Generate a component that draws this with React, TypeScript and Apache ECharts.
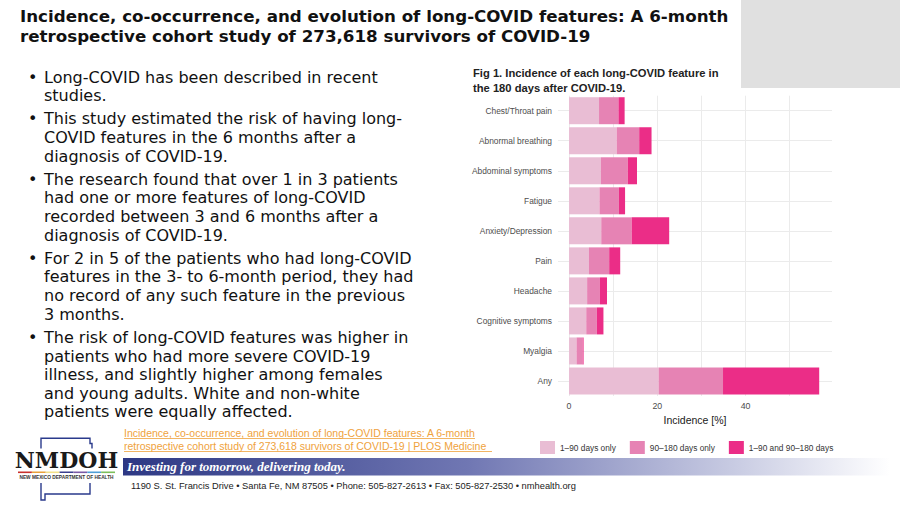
import React, { useEffect, useRef } from "react";
import * as echarts from "echarts";

const categories = [
  "Chest/Throat pain",
  "Abnormal breathing",
  "Abdominal symptoms",
  "Fatigue",
  "Anxiety/Depression",
  "Pain",
  "Headache",
  "Cognitive symptoms",
  "Myalgia",
  "Any",
];
const seriesNames = ["1–90 days only", "90–180 days only", "1–90 and 90–180 days"];
const early = [6.8, 10.8, 7.2, 6.9, 7.3, 4.5, 4.1, 3.9, 1.7, 20.3];
const late = [4.4, 5.1, 6.1, 4.4, 6.9, 4.6, 2.9, 2.4, 1.4, 14.6];
const both = [1.4, 2.8, 2.1, 1.4, 8.5, 2.5, 1.6, 1.5, 0.2, 21.8];
const xTickLabels = [0, 20, 40];
const xGridValues = [0, 10, 20, 30, 40, 50];

const titleLines = [
  "Incidence, co-occurrence, and evolution of long-COVID features: A 6-month",
  "retrospective cohort study of 273,618 survivors of COVID-19",
];
const chartTitleLines = [
  "Fig 1. Incidence of each long-COVID feature in",
  "the 180 days after COVID-19.",
];
const bullets = [
  ["Long-COVID has been described in recent", "studies."],
  [
    "This study estimated the risk of having long-",
    "COVID features in the 6 months after a",
    "diagnosis of COVID-19.",
  ],
  [
    "The research found that over 1 in 3 patients",
    "had one or more features of long-COVID",
    "recorded between 3 and 6 months after a",
    "diagnosis of COVID-19.",
  ],
  [
    "For 2 in 5 of the patients who had long-COVID",
    "features in the 3- to 6-month period, they had",
    "no record of any such feature in the previous",
    "3 months.",
  ],
  [
    "The risk of long-COVID features was higher in",
    "patients who had more severe COVID-19",
    "illness, and slightly higher among females",
    "and young adults. White and non-white",
    "patients were equally affected.",
  ],
];
const bulletTops = [77, 118.8, 179.2, 258.3, 337.4];
const linkLines = [
  "Incidence, co-occurrence, and evolution of long-COVID features: A 6-month",
  "retrospective cohort study of 273,618 survivors of COVID-19 | PLOS Medicine",
];
const tagline = "Investing for tomorrow, delivering today.";
const address =
  "1190 S. St. Francis Drive • Santa Fe, NM 87505 • Phone: 505-827-2613 • Fax: 505-827-2530 • nmhealth.org";

const colors = ["#E9BDD4", "#E683B4", "#EB2D87"];
const rainbow = ["#c9302c", "#e9a13b", "#f2e08a", "#3b3f8f", "#7a5aa6", "#4f9fd6", "#7cbf5b"];

const SANS = "'Liberation Sans', Arial, sans-serif";
const BODY = "'DejaVu Sans', sans-serif";
const LH = 18.65;
const TLH = 19.6;

export default function App() {
  const ref = useRef<HTMLDivElement>(null);
  useEffect(() => {
    if (!ref.current) return;
    const chart = echarts.init(ref.current, null, { renderer: "svg" });

    const graphic: any[] = [];
    graphic.push({
      type: "rect",
      shape: { x: 741, y: 0, width: 159, height: 88 },
      style: { fill: "#e0e0e0" },
      z: 0,
    });
    graphic.push({
      type: "text",
      x: 20,
      y: 16 - TLH / 2,
      style: {
        text: titleLines.join("\n"),
        fill: "#111",
        fontFamily: BODY,
        fontWeight: "bold",
        fontSize: 16.7,
        lineHeight: TLH,
        verticalAlign: "top",
      },
    });
    graphic.push({
      type: "text",
      x: 473,
      y: 73 - 7.25,
      style: {
        text: chartTitleLines.join("\n"),
        fill: "#222",
        fontFamily: SANS,
        fontWeight: "bold",
        fontSize: 11.2,
        lineHeight: 14.5,
        verticalAlign: "top",
      },
    });
    bullets.forEach((lines, i) => {
      graphic.push({
        type: "text",
        x: 28,
        y: bulletTops[i] - LH / 2,
        style: { text: "•", fill: "#111", fontFamily: BODY, fontSize: 16, lineHeight: LH, verticalAlign: "top" },
      });
      graphic.push({
        type: "text",
        x: 44,
        y: bulletTops[i] - LH / 2,
        style: {
          text: lines.join("\n"),
          fill: "#111",
          fontFamily: BODY,
          fontSize: 16,
          lineHeight: LH,
          verticalAlign: "top",
        },
      });
    });
    // link text
    const linkW = [351, 368];
    linkLines.forEach((t, i) => {
      const ym = 433 + i * 13;
      graphic.push({
        type: "text",
        x: 124,
        y: ym,
        style: { text: t, fill: "#EFA23C", fontFamily: SANS, fontSize: 10.5, verticalAlign: "middle" },
      });
      graphic.push({
        type: "line",
        shape: { x1: 124, y1: ym + 5.5, x2: 124 + linkW[i], y2: ym + 5.5 },
        style: { stroke: "#EFA23C", lineWidth: 0.8 },
      });
    });
    // footer band
    graphic.push({
      type: "rect",
      shape: { x: 123, y: 458, width: 767, height: 17.5 },
      style: {
        fill: new echarts.graphic.LinearGradient(0, 0, 1, 0, [
          { offset: 0, color: "#2d3884" },
          { offset: 0.45, color: "#7077b3" },
          { offset: 0.8, color: "#c9cce3" },
          { offset: 1, color: "#ffffff" },
        ]),
      },
    });
    graphic.push({
      type: "text",
      x: 127,
      y: 466.7,
      style: {
        text: tagline,
        fill: "#ffffff",
        fontFamily: "'Liberation Serif', serif",
        fontWeight: "bold",
        fontStyle: "italic",
        fontSize: 13,
        verticalAlign: "middle",
      },
    });
    graphic.push({
      type: "text",
      x: 131,
      y: 485.5,
      style: {
        text: address,
        fill: "#222",
        fontFamily: SANS,
        fontSize: 9.3,
        verticalAlign: "middle",
      },
    });
    // logo
    graphic.push({
      type: "polyline",
      shape: { points: [[41, 448.5], [41, 438.3], [90, 438.3], [90, 443.5], [92, 443.5], [92, 448.5]] },
      style: { stroke: "#2a3a8c", lineWidth: 1.4, fill: "none" },
    });
    graphic.push({
      type: "polyline",
      shape: { points: [[41, 483], [41, 500], [45, 500], [45, 494], [90, 494], [90, 483]] },
      style: { stroke: "#2a3a8c", lineWidth: 1.4, fill: "none" },
    });
    graphic.push({
      type: "text",
      x: 66.5,
      y: 460,
      style: {
        text: "NMDOH",
        fill: "#1a1a1a",
        fontFamily: "'DejaVu Serif', serif",
        fontWeight: "bold",
        fontSize: 22,
        align: "center",
        verticalAlign: "middle",
      },
    });
    const segW = 97 / rainbow.length;
    rainbow.forEach((c, i) => {
      graphic.push({
        type: "rect",
        shape: { x: 18 + i * segW, y: 471.5, width: segW, height: 1.6 },
        style: { fill: c },
      });
    });
    graphic.push({
      type: "text",
      x: 66.5,
      y: 477.7,
      style: {
        text: "NEW MEXICO DEPARTMENT OF HEALTH",
        fill: "#333",
        fontFamily: SANS,
        fontWeight: "bold",
        fontSize: 4.8,
        align: "center",
        verticalAlign: "middle",
      },
    });

    const barSeries = [early, late, both].map((d, i) => ({
      name: seriesNames[i],
      type: "bar",
      stack: "total",
      data: d,
      barWidth: 27,
      z: 2,
      itemStyle: { color: colors[i] },
      ...(i === 0
        ? {
            markLine: {
              silent: true,
              z: 1,
              symbol: "none",
              label: { show: false },
              lineStyle: { color: "#ebebeb", width: 1, type: "solid" },
              data: [
                ...xGridValues.map((v) => ({ xAxis: v })),
                ...categories.map((c) => ({ yAxis: c })),
              ],
            },
          }
        : {}),
    }));

    chart.setOption({
      animation: false,
      backgroundColor: "#ffffff",
      textStyle: { fontFamily: SANS },
      grid: { left: 558, right: 68, top: 95.7, bottom: 110 },
      legend: {
        left: 540,
        top: 441,
        padding: 0,
        icon: "rect",
        itemWidth: 15,
        itemHeight: 13,
        itemGap: 14,
        data: seriesNames,
        textStyle: { fontSize: 8.3, color: "#333", fontFamily: SANS },
        selectedMode: false,
      },
      xAxis: {
        type: "value",
        min: -2.5,
        max: 59.6,
        name: "Incidence [%]",
        nameLocation: "middle",
        nameGap: 16,
        nameTextStyle: { fontSize: 10.5, color: "#1a1a1a", fontFamily: SANS },
        axisLine: { show: false },
        axisTick: { show: false },
        splitLine: { show: false },
        axisLabel: { customValues: xTickLabels, fontSize: 8.8, color: "#4d4d4d", margin: 5 },
      },
      yAxis: {
        type: "category",
        inverse: true,
        data: categories,
        axisLine: { show: false },
        axisTick: { show: false },
        splitLine: { show: false },
        axisLabel: { fontSize: 8.4, color: "#4d4d4d", margin: 6 },
      },
      series: barSeries,
      graphic,
    });
    return () => chart.dispose();
  }, []);
  return (
    <div
      ref={ref}
      style={{ position: "absolute", left: 0, top: 0, width: 900, height: 506 }}
    />
  );
}
